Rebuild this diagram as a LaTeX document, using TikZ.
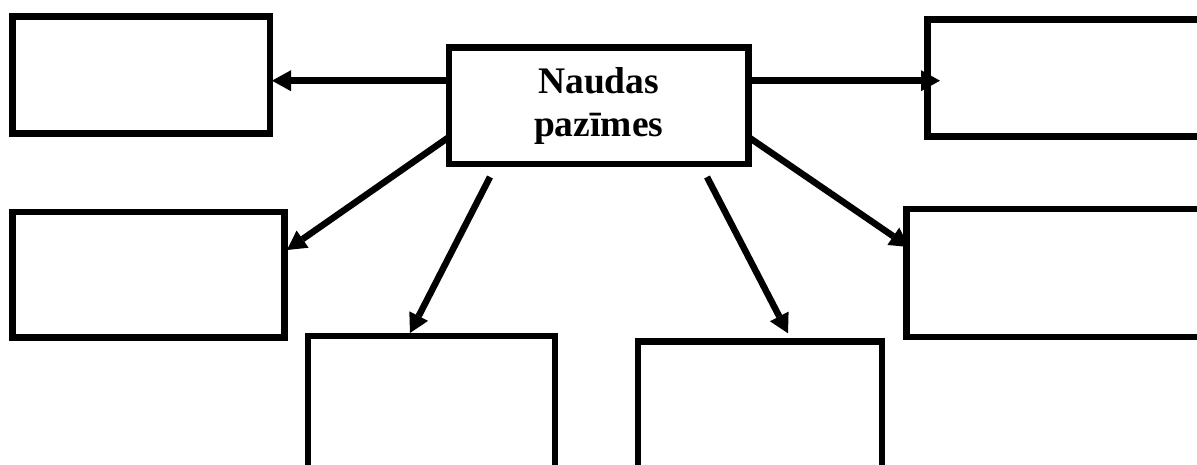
\documentclass[tikz,border=0pt]{standalone}
\usepackage{fontspec}
\setmainfont{Liberation Serif}
\usetikzlibrary{arrows.meta,calc}
\begin{document}
\begin{tikzpicture}[x=1pt,y=-1pt,
  box/.style={draw, line width=6.5pt, rectangle, inner sep=0pt, outer sep=0pt},
  arr/.style={line width=6.5pt, -{Triangle[length=19pt,width=21pt,line width=0pt]}}]
\useasboundingbox (0,0) rectangle (1197,465);
\clip (0,0) rectangle (1197,465);
\node[box, minimum width=299.3pt, minimum height=116.7pt, align=center,
      font=\fontsize{37.5}{43.3}\selectfont\bfseries] (c) at (598.7,105.7) {Naudas\\paz\={\i}mes};
\node[box, minimum width=257.5pt, minimum height=117pt] (tl) at (141.25,74.8) {};
\node[box, minimum width=287.5pt, minimum height=117pt] (tr) at (1071.25,78) {};
\node[box, minimum width=272pt, minimum height=125.5pt] (ml) at (148.5,274.75) {};
\node[box, minimum width=308.5pt, minimum height=128pt] (mr) at (1060.75,273) {};
\node[box, minimum width=247pt, minimum height=154pt] (bl) at (431.5,413) {};
\node[box, minimum width=244pt, minimum height=148.7pt] (bc) at (760,415.65) {};
\coordinate (s4) at (490,177);
\coordinate (s5) at (707,177);
\draw[arr] (c.west |- 0,80.7) -- ($(tl.east |- 0,80.7)+(2,0)$);
\draw[arr] (c.east |- 0,80.7) -- ($(tr.west |- 0,80.7)+(12.5,0)$);
\draw[arr] (c.west |- 0,137) -- ($(ml.east |- 0,250)+(2.5,0)$);
\draw[arr] (s4) -- ($(bl.north -| 410,0)+(0,-3)$);
\draw[arr] (s5) -- ($(bc.north -| 788,0)+(0,-8)$);
\draw[arr] (c.east |- 0,137) -- ($(mr.west |- 0,247)+(2.5,0)$);
\end{tikzpicture}
\end{document}
